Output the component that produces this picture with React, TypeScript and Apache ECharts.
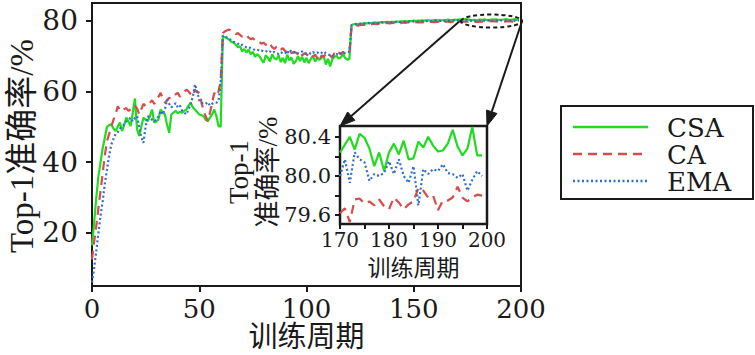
import React, { useEffect, useRef } from 'react';
import * as echarts from 'echarts';

// epochs 0..199
const epochs: number[] = Array.from({ length: 200 }, (_, i) => i);

const csa: number[] = [
  16.5, 23, 30, 36, 40, 44, 47, 50, 50.5, 50.7,
  49.5, 48.8, 50, 51.2, 48.8, 50.5, 52.6, 51.5, 50.2, 54,
  58, 49.3, 47.4, 50, 52.6, 52, 51.6, 53, 54.9, 51.2,
  51.5, 52.1, 54.9, 54, 53.5, 50.5, 48.3, 53.5, 54, 54.5,
  53.8, 54.2, 54, 54.5, 54.9, 56, 56.8, 55.5, 54.9, 54.2,
  53.5, 53.3, 53, 52, 51.6, 52.6, 53.5, 54.9, 53, 50.2,
  50, 75.5, 75.3, 75, 74.6, 74, 73.8, 73.2, 72.5, 72.8,
  71.3, 72.0, 71.0, 71.8, 70.5, 71.2, 69.8, 70.5, 70, 69,
  68.1, 70.2, 69.5, 68.5, 70.5, 69.4, 69, 70.2, 68.3, 69.5,
  68, 70.4, 68.8, 69.6, 67.8, 68.5, 70, 68.6, 69.8, 68.2,
  69.5, 68, 69.2, 70.1, 68.4, 69.6, 68.9, 69.5, 70, 67.6,
  69.2, 67.1, 69, 69.8, 70, 69.3, 69.6, 70.5, 69.5, 69,
  69.2, 78.8, 79.0, 79.1, 79.0, 79.2, 79.2, 79.3, 79.2, 79.4,
  79.3, 79.4, 79.5, 79.4, 79.5, 79.6, 79.5, 79.6, 79.7, 79.6,
  79.7, 79.7, 79.8, 79.7, 79.8, 79.8, 79.9, 79.8, 79.9, 79.9,
  80.0, 79.9, 80.0, 80.0, 80.1, 80.0, 80.1, 80.1, 80.0, 80.1,
  80.2, 80.1, 80.2, 80.1, 80.2, 80.2, 80.3, 80.2, 80.2, 80.3,
  80.24, 80.32, 80.40, 80.27, 80.43, 80.39, 80.28, 80.10, 80.24, 80.05,
  80.24, 80.33, 80.22, 80.36, 80.17, 80.18, 80.35, 80.29, 80.40, 80.31,
  80.25, 80.26, 80.33, 80.47, 80.30, 80.21, 80.28, 80.50, 80.21, 80.21,
];

const ca: number[] = [
  12.5, 17.5, 22, 27, 32, 37, 42, 46, 48, 50,
  52, 53.5, 55.8, 54.8, 54.4, 55, 55.3, 54.5, 54.9, 55.5,
  56, 55.2, 53.5, 55, 56.5, 55.8, 56.2, 56.8, 57.5, 56.5,
  57.2, 58.5, 59.6, 58, 56.8, 57.5, 58.2, 58, 58.7, 59.2,
  59.6, 58.5, 59.2, 59.8, 60.5, 60, 59.3, 58.7, 60.5, 59.8,
  59.6, 57, 54.5, 53, 51.6, 54, 56.8, 59.6, 58.7, 60,
  63, 76.5, 77, 77.3, 77.5, 77, 76.5, 76.2, 76.5, 76,
  75.5, 76, 76, 75.2, 74.8, 75, 74.5, 74.6, 74, 73.5,
  73.8, 73.2, 72.8, 73.5, 72.5, 72, 72.6, 72.8, 71.8, 72.2,
  71.5, 71, 71.8, 70.8, 71.2, 71, 70.5, 71.2, 70.2, 70.8,
  70.5, 70, 70.6, 69.8, 70.4, 69.5, 68.5, 70.2, 69.8, 70.5,
  69.8, 70.2, 69.5, 70.8, 70.2, 71, 70.5, 71.2, 70.6, 70.8,
  71, 78.4, 78.6, 78.7, 78.6, 78.8, 78.9, 78.8, 79.0, 79.0,
  78.9, 79.1, 79.1, 79.0, 79.2, 79.2, 79.1, 79.3, 79.3, 79.2,
  79.4, 79.3, 79.4, 79.4, 79.3, 79.5, 79.4, 79.5, 79.5, 79.4,
  79.5, 79.6, 79.5, 79.6, 79.5, 79.6, 79.6, 79.5, 79.7, 79.6,
  79.6, 79.7, 79.6, 79.7, 79.6, 79.7, 79.7, 79.6, 79.7, 79.7,
  79.62, 79.67, 79.53, 79.76, 79.77, 79.72, 79.74, 79.70, 79.76, 79.69,
  79.66, 79.78, 79.73, 79.66, 79.71, 79.74, 79.88, 79.85, 79.78, 79.80,
  79.65, 79.75, 79.75, 79.78, 79.89, 79.78, 79.74, 79.78, 79.81, 79.80,
];

const ema: number[] = [
  6, 10, 15, 20, 25, 29, 34, 38, 42, 45,
  46.5, 48, 48.5, 49.5, 50, 50.7, 51.5, 52, 52.6, 51.5,
  52.5, 53, 50, 47, 45.5, 50, 53, 52.5, 52, 51.5,
  52, 53, 54.5, 53.5, 55, 57.7, 56.5, 55.5, 56, 56.7,
  55.5, 56, 54.5, 54, 53.5, 55, 56.5, 58.5, 62, 60,
  57.5, 56.7, 56.7, 56.5, 57, 56, 56.5, 56.8, 56.8, 57.5,
  62, 75.8, 75.6, 75.2, 74.8, 74.5, 74, 73.8, 73.5, 73,
  73.2, 72.8, 72.5, 72.6, 72.2, 72, 71.7, 71.9, 71.5, 71.6,
  71.3, 71.5, 71, 71.3, 70.9, 71.2, 70.8, 70.6, 71.1, 70.7,
  71, 70.5, 71.8, 71.2, 70.9, 71.3, 70.8, 71, 71.3, 70.9,
  70.7, 71, 70.6, 71.1, 70.8, 71, 70.6, 70.9, 71.3, 70.8,
  70.5, 70.2, 69.9, 70.4, 70.6, 70.3, 70.8, 70.5, 70.9, 71,
  71.2, 78.7, 78.9, 79.0, 78.9, 79.1, 79.1, 79.2, 79.1, 79.3,
  79.2, 79.3, 79.4, 79.3, 79.4, 79.5, 79.4, 79.5, 79.5, 79.6,
  79.5, 79.6, 79.6, 79.7, 79.6, 79.7, 79.7, 79.6, 79.8, 79.7,
  79.8, 79.8, 79.7, 79.8, 79.9, 79.8, 79.9, 79.9, 79.8, 79.9,
  80.0, 79.9, 79.9, 80.0, 79.9, 80.0, 80.0, 79.9, 80.0, 80.0,
  80.00, 80.17, 79.93, 80.24, 80.17, 80.14, 79.95, 80.02, 80.00, 80.03,
  80.15, 80.02, 80.17, 80.00, 79.93, 80.10, 79.70, 80.07, 80.02, 80.07,
  80.05, 80.12, 80.03, 80.02, 79.98, 80.02, 79.85, 79.96, 80.05, 80.00,
];

const seriesNames = ['CSA', 'CA', 'EMA'];
const mainYTicks = [20, 40, 60, 80];
const insetStart = 170;
const insetXTicks = [170, 175, 180, 185, 190, 195, 200];
const insetXLabels = [170, 180, 190, 200];
const insetYTicks = [79.6, 79.8, 80.0, 80.2, 80.4];
const insetYLabels = [79.6, 80.0, 80.4];

const GREEN = '#1fdc1f';
const RED = '#d94b4b';
const BLUE = '#2f6fcc';
const INK = '#1a1a1a';
const NUM_FONT = 'DejaVu Serif';
const LATIN_FONT = '"Liberation Serif", "Noto Sans CJK SC", serif';
const CJK_FONT = '"Noto Sans CJK SC", "Liberation Serif", sans-serif';

const colors = [GREEN, RED, BLUE];
const dashes: any[] = ['solid', [9, 6], [2, 2.5]];
const allData = [csa, ca, ema];

export default function App() {
  const ref = useRef<HTMLDivElement>(null);
  useEffect(() => {
    document.body.style.margin = '0';
    const chart = echarts.init(ref.current!, null, { renderer: 'svg' });
    const pairs = (vals: number[], from = 0) =>
      epochs.slice(from).map((e, i) => [e, vals[from + i]]);

    const axisLineStyle = { color: INK, width: 2 };

    const series: any[] = [];
    allData.forEach((vals, k) => {
      series.push({
        type: 'line', name: seriesNames[k], xAxisIndex: 0, yAxisIndex: 0,
        data: pairs(vals), symbol: 'none', silent: true,
        lineStyle: { color: colors[k], width: 2.2, type: dashes[k] },
      });
    });
    allData.forEach((vals, k) => {
      series.push({
        type: 'line', name: seriesNames[k] + '-inset', xAxisIndex: 1, yAxisIndex: 1,
        data: pairs(vals, insetStart), symbol: 'none', silent: true,
        lineStyle: { color: colors[k], width: 2.2, type: dashes[k] },
      });
    });

    const option: any = {
      animation: false,
      backgroundColor: '#fff',
      grid: [
        { left: 92, top: 3, width: 429, height: 283, show: true, borderColor: INK, borderWidth: 2, backgroundColor: 'transparent', containLabel: false, outerBoundsMode: 'none' },
        { left: 340, top: 126, width: 147, height: 98, show: true, borderColor: INK, borderWidth: 2.5, backgroundColor: '#fff', containLabel: false, outerBoundsMode: 'none' },
      ],
      xAxis: [
        {
          type: 'value', gridIndex: 0, min: 0, max: 200, interval: 50,
          axisLine: { show: true, onZero: false, lineStyle: axisLineStyle },
          axisTick: { show: true, length: 6, inside: false, lineStyle: axisLineStyle },
          axisLabel: { fontFamily: NUM_FONT, fontSize: 26, color: INK, margin: 10 },
          splitLine: { show: false },
          name: '训练周期', nameLocation: 'middle', nameGap: 33, nameMoveOverlap: false,
          nameTextStyle: { fontFamily: CJK_FONT, fontSize: 29, color: INK },
        },
        {
          type: 'value', gridIndex: 1, min: 170, max: 200,
          axisLine: { show: true, onZero: false, lineStyle: axisLineStyle },
          axisTick: { show: true, length: 5, inside: false, customValues: insetXTicks, lineStyle: axisLineStyle },
          axisLabel: { fontFamily: NUM_FONT, fontSize: 20, color: INK, margin: 6, customValues: insetXLabels },
          splitLine: { show: false },
          name: '训练周期', nameLocation: 'middle', nameGap: 30, nameMoveOverlap: false,
          nameTextStyle: { fontFamily: CJK_FONT, fontSize: 23, color: INK },
        },
      ],
      yAxis: [
        {
          type: 'value', gridIndex: 0, min: 5, max: 85,
          axisLine: { show: true, onZero: false, lineStyle: axisLineStyle },
          axisTick: { show: true, length: 6, inside: false, customValues: mainYTicks, lineStyle: axisLineStyle },
          axisLabel: { fontFamily: NUM_FONT, fontSize: 28, color: INK, margin: 14, customValues: mainYTicks },
          splitLine: { show: false },
        },
        {
          type: 'value', gridIndex: 1, min: 79.51, max: 80.51,
          axisLine: { show: true, onZero: false, lineStyle: axisLineStyle },
          axisTick: { show: true, length: 5, inside: false, customValues: insetYTicks, lineStyle: axisLineStyle },
          axisLabel: {
            fontFamily: NUM_FONT, fontSize: 21, color: INK, margin: 9, customValues: insetYLabels,
            formatter: (v: number) => v.toFixed(1),
          },
          splitLine: { show: false },
        },
      ],
      series,
    };
    chart.setOption(option);

    // annotations computed from axes
    const p = (g: number, pt: number[]) => chart.convertToPixel({ gridIndex: g } as any, pt) as number[];
    const eL = p(0, [172, 79.9]);
    const eR = p(0, [200.5, 79.9]);
    const cx = (eL[0] + eR[0]) / 2;
    const cy = eL[1];
    const rx = (eR[0] - eL[0]) / 2;
    const ry = 6.5;
    const tl = p(1, [170, 80.51]);
    const tr = p(1, [200, 80.51]);

    const arrow = (x1: number, y1: number, x2: number, y2: number) => {
      const dx = x2 - x1, dy = y2 - y1;
      const len = Math.sqrt(dx * dx + dy * dy);
      const ux = dx / len, uy = dy / len;
      const hl = 15, hw = 5.5;
      const bx = x2 - ux * hl, by = y2 - uy * hl;
      return [
        { type: 'line', silent: true, shape: { x1, y1, x2: bx, y2: by }, style: { stroke: INK, lineWidth: 2 } },
        {
          type: 'polygon', silent: true,
          shape: { points: [[x2, y2], [bx - uy * hw, by + ux * hw], [bx + uy * hw, by - ux * hw]] },
          style: { fill: INK, stroke: INK, lineWidth: 1 },
        },
      ];
    };

    const legendRows = [127, 154, 181];
    const graphic: any[] = [
      {
        type: 'ellipse', silent: true, shape: { cx, cy, rx, ry },
        style: { fill: 'none', stroke: INK, lineWidth: 2, lineDash: [4, 3] }, z: 10,
      },
      ...arrow(cx - rx, cy - 1, tl[0], tl[1]),
      ...arrow(cx + rx, cy, tr[0], tr[1]),
      {
        type: 'text', silent: true, x: 22, y: 146, rotation: Math.PI / 2,
        style: { text: 'Top-1准确率/%', font: `33px ${LATIN_FONT}`, fill: INK, align: 'center', verticalAlign: 'middle' },
      },
      {
        type: 'text', silent: true, x: 253, y: 172, rotation: Math.PI / 2,
        style: { text: 'Top-1\n准确率/%', font: `27px ${LATIN_FONT}`, lineHeight: 29, fill: INK, align: 'center', verticalAlign: 'middle' },
      },
      {
        type: 'rect', silent: true, shape: { x: 561, y: 106, width: 192, height: 93 },
        style: { fill: '#fff', stroke: INK, lineWidth: 2 },
      },
    ];
    seriesNames.forEach((nm, k) => {
      graphic.push({
        type: 'line', silent: true, shape: { x1: 573, y1: legendRows[k], x2: 648, y2: legendRows[k] },
        style: { stroke: colors[k], lineWidth: 2.5, lineDash: k === 0 ? null : dashes[k] },
      });
      graphic.push({
        type: 'text', silent: true, x: 667, y: legendRows[k] + 1,
        style: { text: nm, font: `26px ${NUM_FONT}`, lineHeight: 26, fill: INK, align: 'left', verticalAlign: 'middle' },
      });
    });
    chart.setOption({ graphic });

    return () => chart.dispose();
  }, []);
  return <div ref={ref} style={{ width: 755, height: 355 }} />;
}
